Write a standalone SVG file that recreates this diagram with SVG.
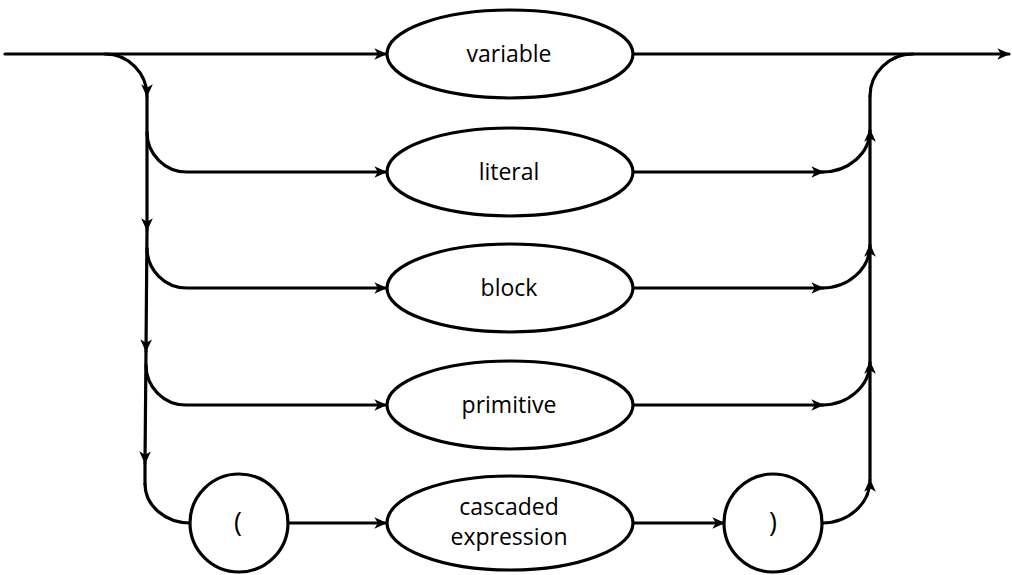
<svg xmlns="http://www.w3.org/2000/svg" width="1012" height="575" viewBox="0 0 1012 575">
<style>
.ln{fill:none;stroke:#000;stroke-width:3.2;stroke-linecap:round}
.nd{fill:#fff;stroke:#000;stroke-width:3.2}
.tx{font-family:"Open Sans","Liberation Sans",sans-serif;font-size:23px;fill:#000;text-anchor:middle}
.pr{font-family:"Open Sans","Liberation Sans",sans-serif;font-size:27px;fill:#000;text-anchor:middle}
</style>
<defs>
<marker id="ar" markerUnits="userSpaceOnUse" markerWidth="14" markerHeight="12" refX="10" refY="5" orient="auto" viewBox="0 0 12 10">
<path d="M0,0 L11,5 L0,10 L3,5 z" fill="#000"/>
</marker>
</defs>
<g id="connectors">
<path class="ln" d="M5,54 L386,54" marker-end="url(#ar)"/>
<path class="ln" d="M633,54 L1009,54" marker-end="url(#ar)"/>
<path class="ln" d="M105,54 A42,42 0 0 1 147,96" marker-end="url(#ar)"/>
<path class="ln" d="M147,96 L147,230" marker-end="url(#ar)"/>
<path class="ln" d="M147,230 L146,351" marker-end="url(#ar)"/>
<path class="ln" d="M146,351 L145,463" marker-end="url(#ar)"/>
<path class="ln" d="M145,463 L145,484"/>
<path class="ln" d="M147,132 A40,40 0 0 0 187,172 L386,172" marker-end="url(#ar)"/>
<path class="ln" d="M147,248 A40,40 0 0 0 187,288 L386,288" marker-end="url(#ar)"/>
<path class="ln" d="M146,365 A40,40 0 0 0 186,405 L386,405" marker-end="url(#ar)"/>
<path class="ln" d="M145,484 A45,39 0 0 0 190,523"/>
<path class="ln" d="M288,523 L386,523" marker-end="url(#ar)"/>
<path class="ln" d="M633,523 L724,523" marker-end="url(#ar)"/>
<path class="ln" d="M633,172 L823,172" marker-end="url(#ar)"/>
<path class="ln" d="M633,288 L823,288" marker-end="url(#ar)"/>
<path class="ln" d="M633,405 L823,405" marker-end="url(#ar)"/>
<path class="ln" d="M822,172 A48,42 0 0 0 870,130" marker-end="url(#ar)"/>
<path class="ln" d="M822,288 A48,43 0 0 0 870,245" marker-end="url(#ar)"/>
<path class="ln" d="M822,405 A48,43 0 0 0 870,362" marker-end="url(#ar)"/>
<path class="ln" d="M822,523 A48,43 0 0 0 870,480" marker-end="url(#ar)"/>
<path class="ln" d="M870,480 L870,96"/>
<path class="ln" d="M870,96 A43,42 0 0 1 913,54"/>
</g>
<g id="variable"><ellipse class="nd" cx="510" cy="54" rx="123" ry="44"/><text class="tx" x="509" y="62">variable</text></g>
<g id="literal"><ellipse class="nd" cx="510" cy="172" rx="123" ry="44"/><text class="tx" x="509" y="180">literal</text></g>
<g id="block"><ellipse class="nd" cx="510" cy="288" rx="123" ry="44"/><text class="tx" x="509" y="296">block</text></g>
<g id="primitive"><ellipse class="nd" cx="510" cy="405" rx="123" ry="44"/><text class="tx" x="509" y="413">primitive</text></g>
<g id="cascaded-expression"><ellipse class="nd" cx="510" cy="523" rx="123" ry="47"/><text class="tx" x="509" y="515">cascaded</text><text class="tx" x="509" y="545">expression</text></g>
<g id="lparen"><circle class="nd" cx="239" cy="523" r="49"/><text class="pr" x="238" y="532">(</text></g>
<g id="rparen"><circle class="nd" cx="773" cy="523" r="49"/><text class="pr" x="773" y="532">)</text></g>
</svg>
